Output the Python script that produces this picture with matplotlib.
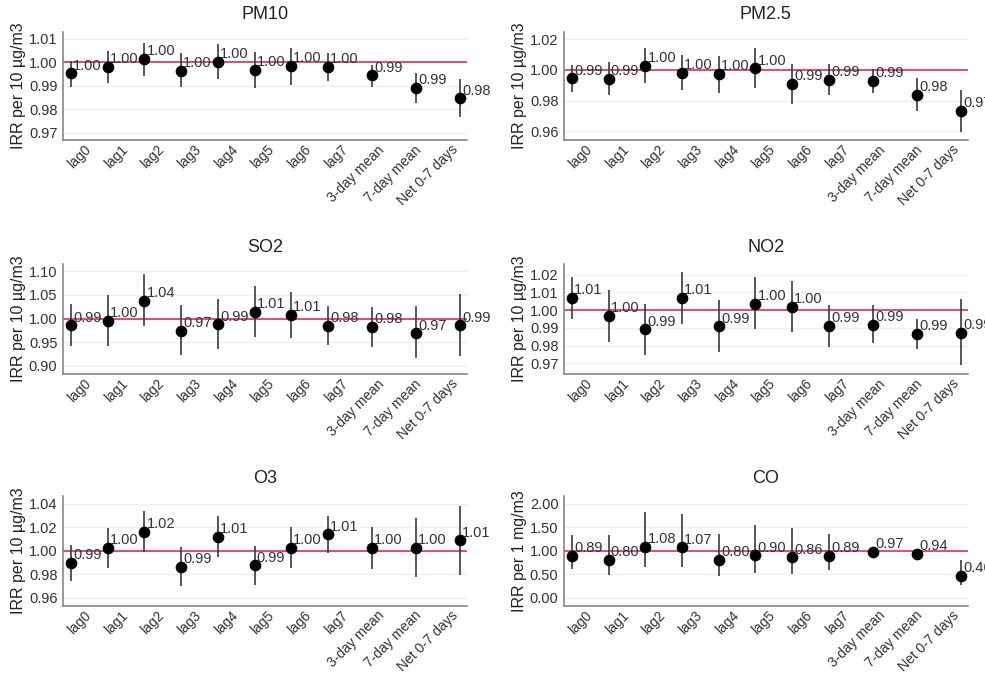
import matplotlib
matplotlib.use("Agg")
import matplotlib.pyplot as plt
import numpy as np

plt.rcParams['font.family'] = ['Liberation Sans', 'DejaVu Sans']

lags = ['lag0', 'lag1', 'lag2', 'lag3', 'lag4', 'lag5', 'lag6', 'lag7',
        '3-day mean', '7-day mean', 'Net 0-7 days']

# point estimates and 95% CI
pm10_est = [0.9952, 0.9980, 1.0013, 0.9963, 1.0001, 0.9966, 0.9983, 0.9980, 0.9944, 0.9892, 0.9846]
pm10_lo = [0.9896, 0.9913, 0.9942, 0.9893, 0.9927, 0.9889, 0.9903, 0.9920, 0.9896, 0.9825, 0.9766]
pm10_hi = [1.0004, 1.0046, 1.0082, 1.0037, 1.0076, 1.0044, 1.0062, 1.0039, 0.9990, 0.9956, 0.9928]

pm25_est = [0.9946, 0.9944, 1.0026, 0.9983, 0.9974, 1.0011, 0.9910, 0.9935, 0.9927, 0.9839, 0.9733]
pm25_lo = [0.9856, 0.9834, 0.9913, 0.9867, 0.9849, 0.9882, 0.9781, 0.9839, 0.9849, 0.9731, 0.9598]
pm25_hi = [1.0032, 1.0052, 1.0140, 1.0097, 1.0092, 1.0140, 1.0039, 1.0039, 1.0006, 0.9946, 0.9871]

so2_est = [0.9859, 0.9951, 1.0373, 0.9739, 0.9880, 1.0141, 1.0070, 0.9845, 0.9817, 0.9690, 0.9859]
so2_lo = [0.9423, 0.9423, 0.9845, 0.9225, 0.9366, 0.9606, 0.9585, 0.9444, 0.9408, 0.9162, 0.9218]
so2_hi = [1.0310, 1.0493, 1.0937, 1.0275, 1.0415, 1.0676, 1.0563, 1.0268, 1.0239, 1.0254, 1.0521]

no2_est = [1.0070, 0.9968, 0.9892, 1.0070, 0.9908, 1.0036, 1.0017, 0.9913, 0.9919, 0.9866, 0.9872]
no2_lo = [0.9951, 0.9823, 0.9747, 0.9921, 0.9762, 0.9892, 0.9874, 0.9794, 0.9813, 0.9781, 0.9689]
no2_hi = [1.0187, 1.0111, 1.0036, 1.0217, 1.0055, 1.0185, 1.0164, 1.0030, 1.0030, 0.9949, 1.0062]

o3_est = [0.9898, 1.0023, 1.0162, 0.9864, 1.0119, 0.9875, 1.0023, 1.0139, 1.0023, 1.0023, 1.0088]
o3_lo = [0.9745, 0.9852, 0.9986, 0.9696, 0.9943, 0.9708, 0.9855, 0.9980, 0.9844, 0.9773, 0.9793]
o3_hi = [1.0051, 1.0193, 1.0335, 1.0034, 1.0292, 1.0043, 1.0199, 1.0292, 1.0201, 1.0278, 1.0377]

co_est = [0.89, 0.80, 1.08, 1.07, 0.80, 0.90, 0.86, 0.89, 0.97, 0.94, 0.46]
co_lo = [0.61, 0.48, 0.66, 0.645, 0.468, 0.532, 0.504, 0.58, 0.94, 0.91, 0.27]
co_hi = [1.333, 1.333, 1.816, 1.787, 1.362, 1.539, 1.475, 1.348, 1.00, 0.97, 0.794]

panels = [
    ('PM10', 'IRR per 10 µg/m3', pm10_est, pm10_lo, pm10_hi, [0.97, 0.98, 0.99, 1.00, 1.01], (0.967, 1.0128)),
    ('PM2.5', 'IRR per 10 µg/m3', pm25_est, pm25_lo, pm25_hi, [0.96, 0.98, 1.00, 1.02], (0.9544, 1.0247)),
    ('SO2', 'IRR per 10 µg/m3', so2_est, so2_lo, so2_hi, [0.90, 0.95, 1.00, 1.05, 1.10], (0.8831, 1.1148)),
    ('NO2', 'IRR per 10 µg/m3', no2_est, no2_lo, no2_hi, [0.97, 0.98, 0.99, 1.00, 1.01, 1.02], (0.964, 1.026)),
    ('O3', 'IRR per 10 µg/m3', o3_est, o3_lo, o3_hi, [0.96, 0.98, 1.00, 1.02, 1.04], (0.9532, 1.0468)),
    ('CO', 'IRR per 1 mg/m3', co_est, co_lo, co_hi, [0.0, 0.5, 1.0, 1.5, 2.0], (-0.17, 2.17)),
]

# the summary measures sit a bit further apart than the single lags
x_pos = np.r_[np.arange(8), 8.2 + 1.2 * np.arange(3)]
tick_pos = np.arange(11) + 0.35

fig = plt.figure(figsize=(9.85, 6.73), dpi=100)
lefts = [0.064, 0.5726]
bottoms = [0.792, 0.4443, 0.1]
heights = [0.1605, 0.1634, 0.1634]

for i, (name, ylab, est, lo, hi, yticks, ylim) in enumerate(panels):
    r, c = divmod(i, 2)
    ax = fig.add_axes([lefts[c], bottoms[r], 0.410, heights[r]])
    est = np.array(est)
    lo = np.array(lo)
    hi = np.array(hi)

    ax.vlines(x_pos, lo, hi, color='#3a3a3a', lw=1.2, zorder=3)
    ax.axhline(1.0, color='#d81f4c', lw=1.1, zorder=2)
    ax.plot(x_pos, est, 'o', color='black', ms=7.4, zorder=4)
    for x, v in zip(x_pos, est):
        ax.annotate(f'{v:.2f}', (x, v), xytext=(1.5, 0.5), textcoords='offset points',
                    ha='left', va='bottom', fontsize=10.5, color='#333333',
                    annotation_clip=False, zorder=5)

    ax.set_ylim(*ylim)
    ax.set_xlim(-0.22, 10.79)
    ax.set_yticks(yticks)
    ax.set_yticklabels([f'{t:.2f}' for t in yticks], fontsize=10.5, color='#333333')
    ax.set_xticks(tick_pos)
    ax.set_xticklabels(lags, rotation=45, ha='right', va='top', rotation_mode='anchor',
                       fontsize=10, color='#333333')
    ax.tick_params(axis='y', length=0, pad=4)
    ax.tick_params(axis='x', length=0, pad=2)
    ax.grid(axis='y', color='#eaf2f2', lw=1.0, zorder=0)
    ax.set_axisbelow(True)
    for s in ['top', 'right']:
        ax.spines[s].set_visible(False)
    for s in ['left', 'bottom']:
        ax.spines[s].set_color('#888888')
        ax.spines[s].set_linewidth(1.2)
    ax.set_ylabel(ylab, fontsize=11.5, color='#222222', labelpad=2)
    ax.set_title(name, fontsize=13, color='#222222', pad=9)

fig.savefig('out.png', dpi=100)
